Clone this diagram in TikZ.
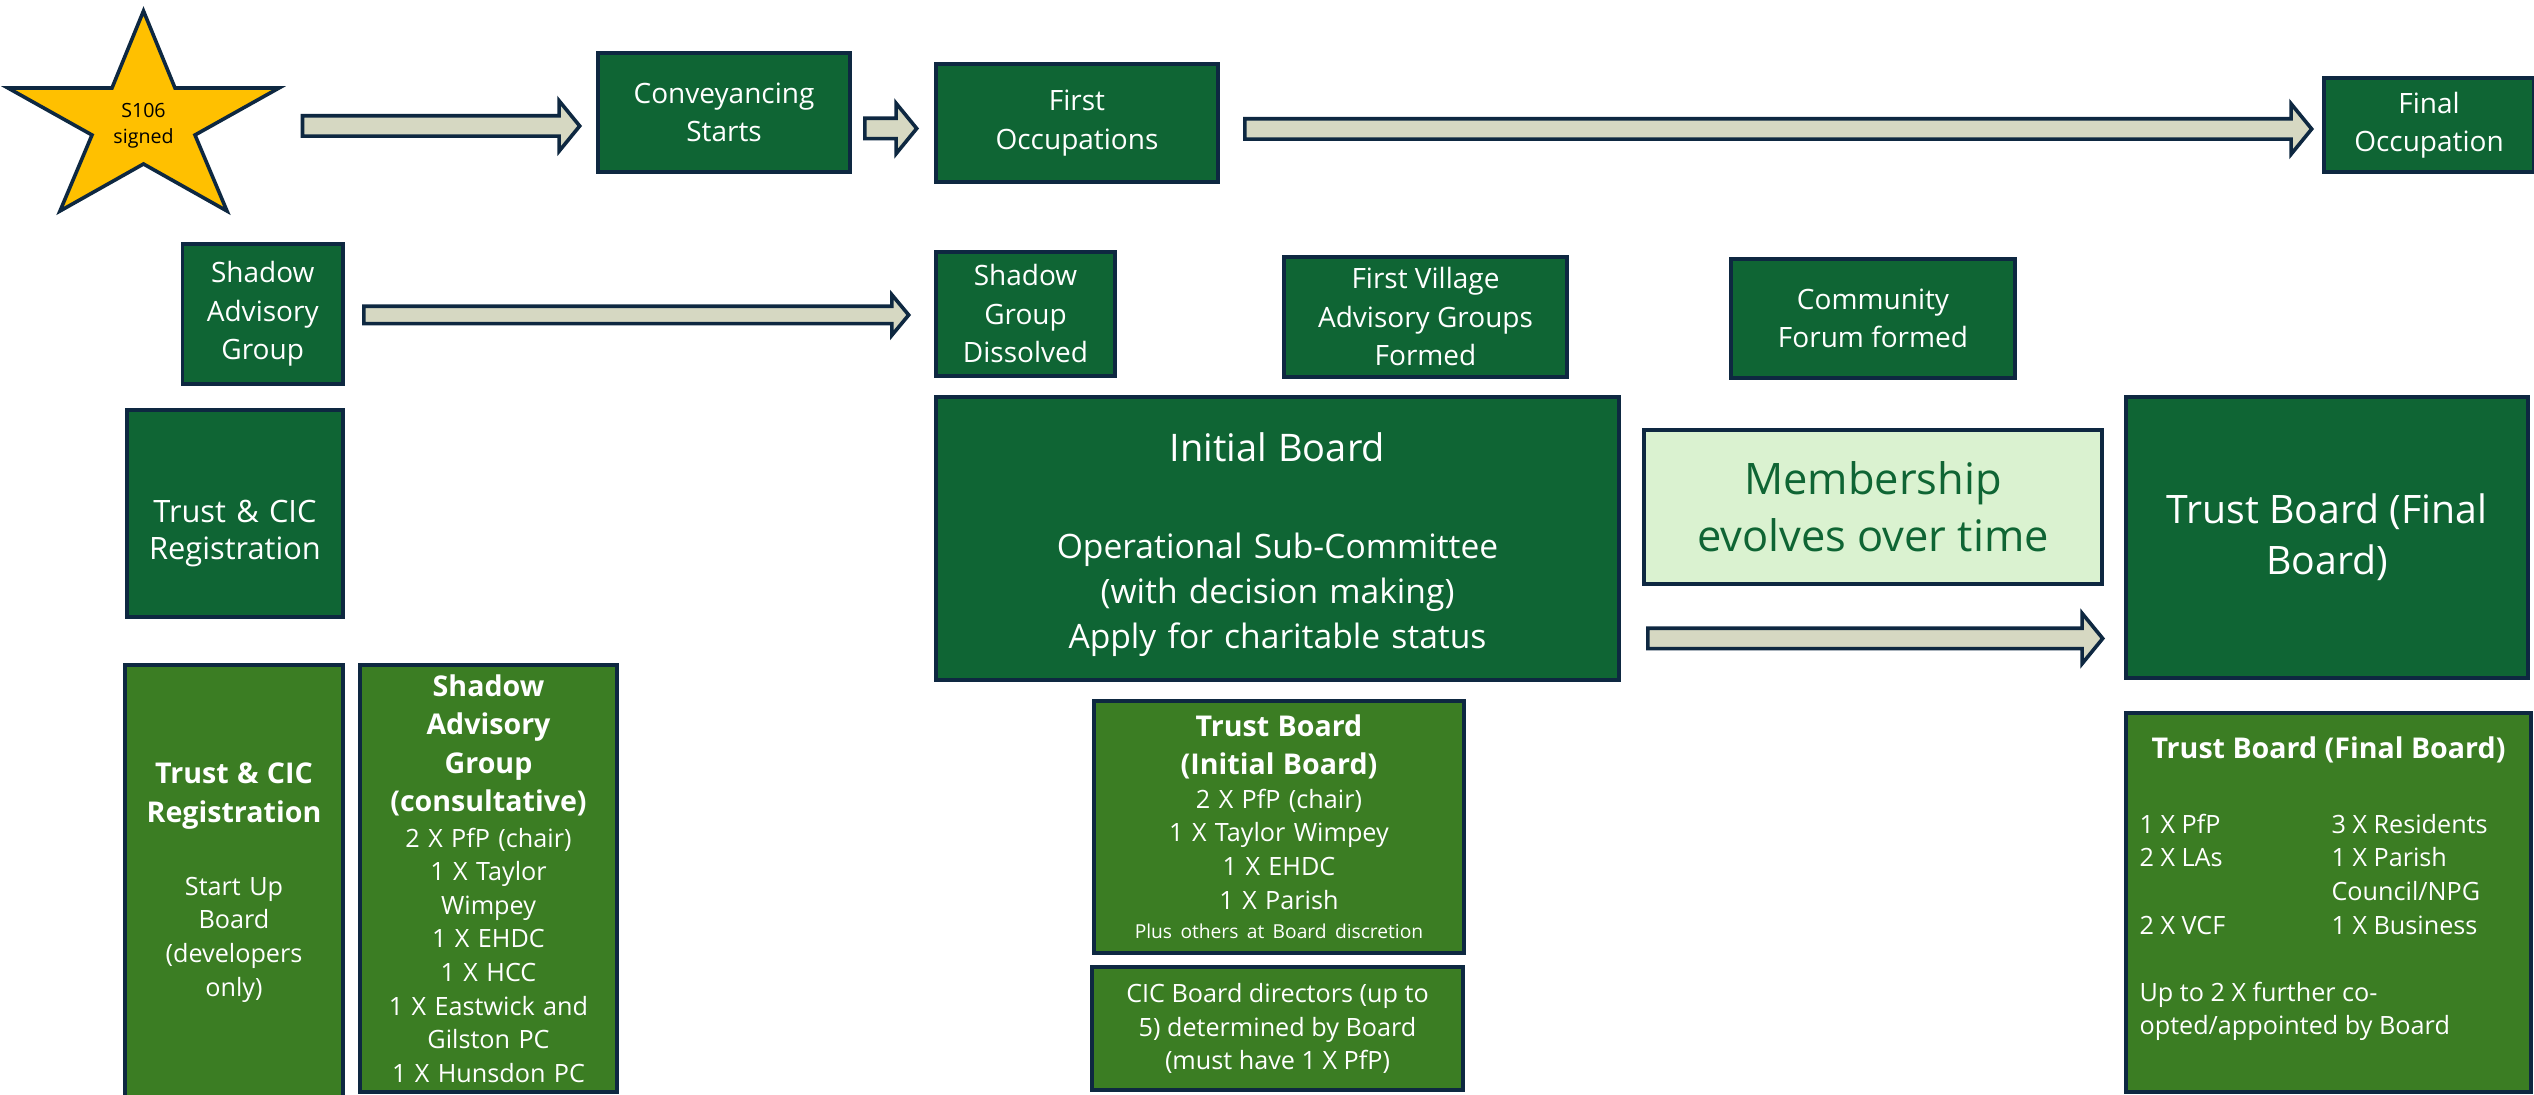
\documentclass[tikz,border=0pt]{standalone}
\usepackage{fontspec}
\setmainfont{Open Sans}
\usetikzlibrary{calc}

\definecolor{boardgreen}{HTML}{0F6534}
\definecolor{panelgreen}{HTML}{3B7D23}
\definecolor{palegreen}{HTML}{DAF2D0}
\definecolor{edgenavy}{HTML}{0E2841}
\definecolor{arrowstone}{HTML}{D6D8C2}
\definecolor{stargold}{HTML}{FFC000}

\begin{document}
\begin{tikzpicture}[x=0.5pt,y=-0.5pt,line join=miter]

% Styles
\tikzset{
  stagebox/.style={draw=edgenavy,line width=1.8pt,fill=boardgreen,text=white,
    align=center,inner sep=0pt,font={\fontsize{14}{19.25}\selectfont}},
  panelbox/.style={draw=edgenavy,line width=1.8pt,fill=panelgreen,text=white,
    align=center,inner sep=0pt,font={\fontsize{12.6}{16.8}\selectfont}},
  notebox/.style={draw=edgenavy,line width=1.8pt,fill=palegreen,text=boardgreen,
    align=center,inner sep=0pt,font={\fontsize{21.7}{28.7}\selectfont}},
  shaft half/.store in=\shafthalf, shaft half=5.1pt,
  head half/.store in=\headhalf, head half=12.6pt,
  head len/.store in=\headlen, head len=10.3pt,
  blockarrow/.style={draw=edgenavy,line width=1.8pt,fill=arrowstone,
    to path={let \p1=(\tikztostart), \p2=(\tikztotarget) in
      (\x1,\y1+\shafthalf) -- (\x2-\headlen,\y1+\shafthalf) -- (\x2-\headlen,\y1+\headhalf)
      -- (\x2,\y1) -- (\x2-\headlen,\y1-\headhalf) -- (\x2-\headlen,\y1-\shafthalf)
      -- (\x1,\y1-\shafthalf) -- cycle}}
}

\useasboundingbox (0,0) rectangle (2534,1095);

% S106 star
\draw[draw=edgenavy,fill=stargold,line width=1.8pt]
  (143.5,11) -- (175,88) -- (279,88) -- (195,135) -- (227,211) -- (143.5,164)
  -- (60,211) -- (92,135) -- (8,88) -- (112,88) -- cycle;
\node[font={\fontsize{9.8}{12.8}\selectfont},align=center] (s106) at (143.5,126) {S106\\signed};

% Top row: milestones
\node[stagebox,minimum width=126pt,minimum height=59.5pt] (conv) at (724,112.5) {Conveyancing\\Starts};
\node[stagebox,minimum width=141pt,minimum height=59pt] (firstocc) at (1077,123) {First\\Occupations};
\node[stagebox,minimum width=105pt,minimum height=47pt] (finalocc) at (2429,125) {Final\\Occupation};

% Second row: groups
\node[stagebox,minimum width=80.25pt,minimum height=70pt] (shadow) at (262.75,314) {Shadow\\Advisory\\Group};
\node[stagebox,minimum width=89.5pt,minimum height=62pt] (dissolved) at (1025.5,314) {Shadow\\Group\\Dissolved};
\node[stagebox,minimum width=141.5pt,minimum height=60pt] (village) at (1425.5,317) {First Village\\Advisory Groups\\Formed};
\node[stagebox,minimum width=142pt,minimum height=59.5pt] (community) at (1873,318.5) {Community\\Forum formed};

% Third row: boards
\node[stagebox,text width=104pt,minimum width=108pt,minimum height=103.5pt,
  font={\fontsize{15.4}{18.7}\selectfont}] (trustreg) at (235,513.5) {\rule{0pt}{31pt}Trust \& CIC\\Registration};
\node[stagebox,text width=330pt,minimum width=341.5pt,minimum height=141.5pt,
  font={\fontsize{16.8}{22.5}\selectfont}] (initial) at (1277.5,538.5)
  {{\fontsize{19}{22.5}\selectfont\rule{0pt}{21pt}Initial Board\par}\vspace{26pt}Operational Sub-Committee\\(with decision making)\\Apply for charitable status};
\node[notebox,minimum width=229pt,minimum height=77pt] (membership) at (1873,507) {Membership\\evolves over time};
\node[stagebox,minimum width=201pt,minimum height=140.5pt,
  font={\fontsize{19.6}{25.5}\selectfont}] (finalboard) at (2327,537.5) {Trust Board (Final\\Board)};

% Bottom row: membership panels
\node[panelbox,text width=105pt,minimum width=109pt,minimum height=217.5pt] (trustcic) at (234,882.5)
  {{\bfseries\fontsize{14.3}{19.5}\selectfont Trust \& CIC\\Registration\par}\vspace{19.5pt}Start Up\\Board\\(developers\\only)};
\node[panelbox,text width=126pt,minimum width=128.5pt,minimum height=213.5pt] (shadowcons) at (488.5,878.5)
  {{\bfseries\fontsize{14.3}{19.25}\selectfont Shadow\\Advisory\\Group\\(consultative)\par}\vspace{1pt}2 X PfP (chair)\\1 X Taylor\\Wimpey\\1 X EHDC\\1 X HCC\\1 X Eastwick and\\Gilston PC\\1 X Hunsdon PC};
\node[panelbox,text width=180pt,minimum width=185pt,minimum height=126pt] (initialtrust) at (1279,827)
  {{\bfseries\fontsize{14.3}{19}\selectfont Trust Board\\(Initial Board)\par}2 X PfP (chair)\\1 X Taylor Wimpey\\1 X EHDC\\1 X Parish\\[-2pt]{\fontsize{9.6}{12}\selectfont Plus others at Board discretion}};
\node[panelbox,minimum width=185.5pt,minimum height=61.5pt] (cicdir) at (1277.5,1028.5)
  {CIC Board directors (up to\\5) determined by Board\\(must have 1 X PfP)};
\node[panelbox,minimum width=202.5pt,minimum height=189.5pt] (finaltrust) at (2328.5,902.5)
  {\begin{tabular}{@{}p{96pt}@{}l@{}}
    \multicolumn{2}{c}{\bfseries\fontsize{14.3}{19.5}\selectfont Trust Board (Final Board)}\\[20.5pt]
    1 X PfP & 3 X Residents\\
    2 X LAs & 1 X Parish\\
     & Council/NPG\\
    2 X VCF & 1 X Business\\[16.7pt]
    \multicolumn{2}{@{}l}{Up to 2 X further co-}\\
    \multicolumn{2}{@{}l}{opted/appointed by Board}\\[12.5pt]
  \end{tabular}};

% Block arrows
\draw[blockarrow] ([xshift=79.5pt]s106.center) to ([xshift=-8.25pt]conv.west);
\draw[blockarrow] ([xshift=6.5pt,yshift=-8pt]conv.east) to ([xshift=-8.75pt]firstocc.west);
\draw[blockarrow] ([xshift=12.5pt,yshift=-3pt]firstocc.east) to ([xshift=-5.25pt]finalocc.west);
\draw[blockarrow,shaft half=4.35pt,head half=10.1pt,head len=8.4pt]
  ([xshift=9.5pt,yshift=-0.5pt]shadow.east) to ([xshift=-12.75pt]dissolved.west);
\draw[blockarrow] ([xshift=13.5pt,yshift=-50pt]initial.east) to ([xshift=-10.75pt]finalboard.west);

\end{tikzpicture}
\end{document}
